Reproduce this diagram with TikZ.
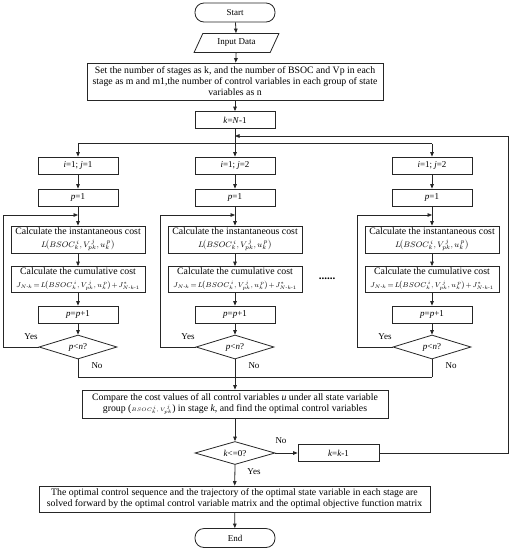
\documentclass[tikz,border=0pt]{standalone}
\usepackage{amsmath}
\usepackage{fontspec}
\setmainfont{Liberation Serif}
\usetikzlibrary{arrows.meta,shapes.geometric}
\begin{document}
\begin{tikzpicture}[x=1pt,y=-1pt,
  every node/.style={font=\fontsize{9.8}{11}\selectfont},
  box/.style={draw=black!85, line width=0.8pt, rectangle, inner sep=1pt, align=center},
  smallbox/.style={box, minimum width=80pt, minimum height=17pt, font=\fontsize{9}{10}\selectfont},
  term/.style={box, rounded corners=9pt, minimum width=80pt, minimum height=19pt, font=\fontsize{9}{10}\selectfont},
  iobox/.style={draw=black!85, line width=0.8pt, trapezium, trapezium left angle=62, trapezium right angle=118, trapezium stretches=true, minimum width=85pt, minimum height=19pt, inner sep=1pt, font=\fontsize{9}{10}\selectfont},
  calcbox/.style={box, minimum width=134pt, inner sep=0.3pt, font=\fontsize{9.8}{10}\selectfont},
  dec/.style={draw=black!85, line width=0.8pt, diamond, aspect=3.25, inner sep=0pt, minimum width=78pt, minimum height=24pt, font=\fontsize{9}{10}\selectfont},
  ln/.style={draw=black!85, line width=0.8pt},
  arr/.style={-{Triangle[length=4.5pt,width=3.6pt]}},
  lab/.style={font=\fontsize{9}{10}\selectfont, inner sep=0pt}
]
\fill[white] (0,0) rectangle (513,550);
\useasboundingbox (0,0) rectangle (513,550);

\node[term] (start) at (235,12.5) {Start};
\node[iobox] (input) at (236.5,43) {Input Data};
\node[box, minimum width=296pt, minimum height=37pt] (setb) at (235,81.5)
  {Set the number of stages as k, and the number of BSOC and Vp in each\\
   stage as m and m1,the number of control variables in each group of state\\
   variables as n};
\node[smallbox] (kinit) at (235,120) {\textit{k}=\textit{N}-1};

\coordinate (ret) at (235,136);
\coordinate (br) at (235,143.5);
\coordinate (coll) at (235,377);

\foreach \c/\x/\lx/\jj in {a/78/3/1, b/235/160/2, c/432/357/2}{
  \node[smallbox] (i\c) at (\x,165.5) {\textit{i}=1; \textit{j}=\jj};
  \node[smallbox] (p\c) at (\x,197.5) {\textit{p}=1};
  \node[calcbox, minimum height=27pt] (ci\c) at (\x,239.5)
    {Calculate the instantaneous cost\\[2.5pt]
     {\fontsize{8}{9}\selectfont$L\!\bigl(BSOC_k^{\,i},V_{pk}^{\,j},u_k^{\,p}\bigr)$}};
  \node[calcbox, minimum height=26pt] (cc\c) at (\x,279.5)
    {Calculate the cumulative cost\\[2.5pt]
     {\fontsize{7}{8}\selectfont$J_{N\text{-}k}\!=\!L\!\bigl(BSOC_k^{\,i},V_{pk}^{\,j},u_k^{\,p}\bigr)\!+\!J^{*}_{N\text{-}k\text{-}1}$}};
  \node[smallbox] (pp\c) at (\x,314.5) {\textit{p}=\textit{p}+1};
  \node[dec] (d\c) at (\x,347) {\textit{p}<\textit{n}?};
  \coordinate (lp\c) at (\x,215);
  \coordinate (lx\c) at (\lx,215);
  \node[lab] (yes\c) at (\x-47,337) {Yes};
  \node[lab] (no\c) at (\x+19,366) {No};
  \draw[ln,arr] (i\c) -- (p\c);
  \draw[ln,arr] (p\c) -- (ci\c);
  \draw[ln,arr] (ci\c) -- (cc\c);
  \draw[ln,arr] (cc\c) -- (pp\c);
  \draw[ln,arr] (pp\c) -- (d\c);
  \draw[ln,arr] (d\c.west) -| (lx\c) -- (lp\c);
  \draw[ln] (d\c.south) -- (d\c.south |- coll);
}
\node[font=\fontsize{11}{12}\selectfont\bfseries] (dots) at (327,279) {......};

\node[box, minimum width=306pt, minimum height=28pt] (cmp) at (235,404)
  {Compare the cost values of all control variables \textit{u} under all state variable\\
   group ({\fontsize{5.5}{6}\selectfont$BSOC_k^{\,i},V_{pk}^{\,j}$}) in stage \textit{k}, and find the optimal control variables};
\node[dec, minimum width=80pt, minimum height=23pt] (kchk) at (235,453) {\textit{k}<=0?};
\node[smallbox, minimum width=81pt] (kk) at (338.5,453) {\textit{k}=\textit{k}-1};
\node[lab] (nok) at (281,441) {No};
\node[lab] (yesk) at (254,472) {Yes};
\node[box, minimum width=391pt, minimum height=26pt] (final) at (234.5,499)
  {The optimal control sequence and the trajectory of the optimal state variable in each stage are\\
   solved forward by the optimal control variable matrix and the optimal objective function matrix};
\node[term] (end) at (235,538) {End};
\coordinate (rtc) at (508,136);

\draw[ln,arr] (start) -- (input);
\draw[ln,arr] (input) -- (setb);
\draw[ln,arr] (setb) -- (kinit);
\draw[ln] (kinit) -- (br);
\draw[ln] (ia |- br) -- (ic |- br);
\draw[ln,arr] (ia |- br) -- (ia);
\draw[ln,arr] (br) -- (ib);
\draw[ln,arr] (ic |- br) -- (ic);
\draw[ln] (da.south |- coll) -- (dc.south |- coll);
\draw[ln,arr] (coll) -- (cmp);
\draw[ln,arr] (cmp) -- (kchk);
\draw[ln,arr] (kchk.east) -- (kk.west);
\draw[ln,arr] (kk.east) -| (rtc) -- (ret);
\draw[ln,arr] (kchk.south) -- (final);
\draw[ln,arr] (final) -- (end);
\end{tikzpicture}
\end{document}
